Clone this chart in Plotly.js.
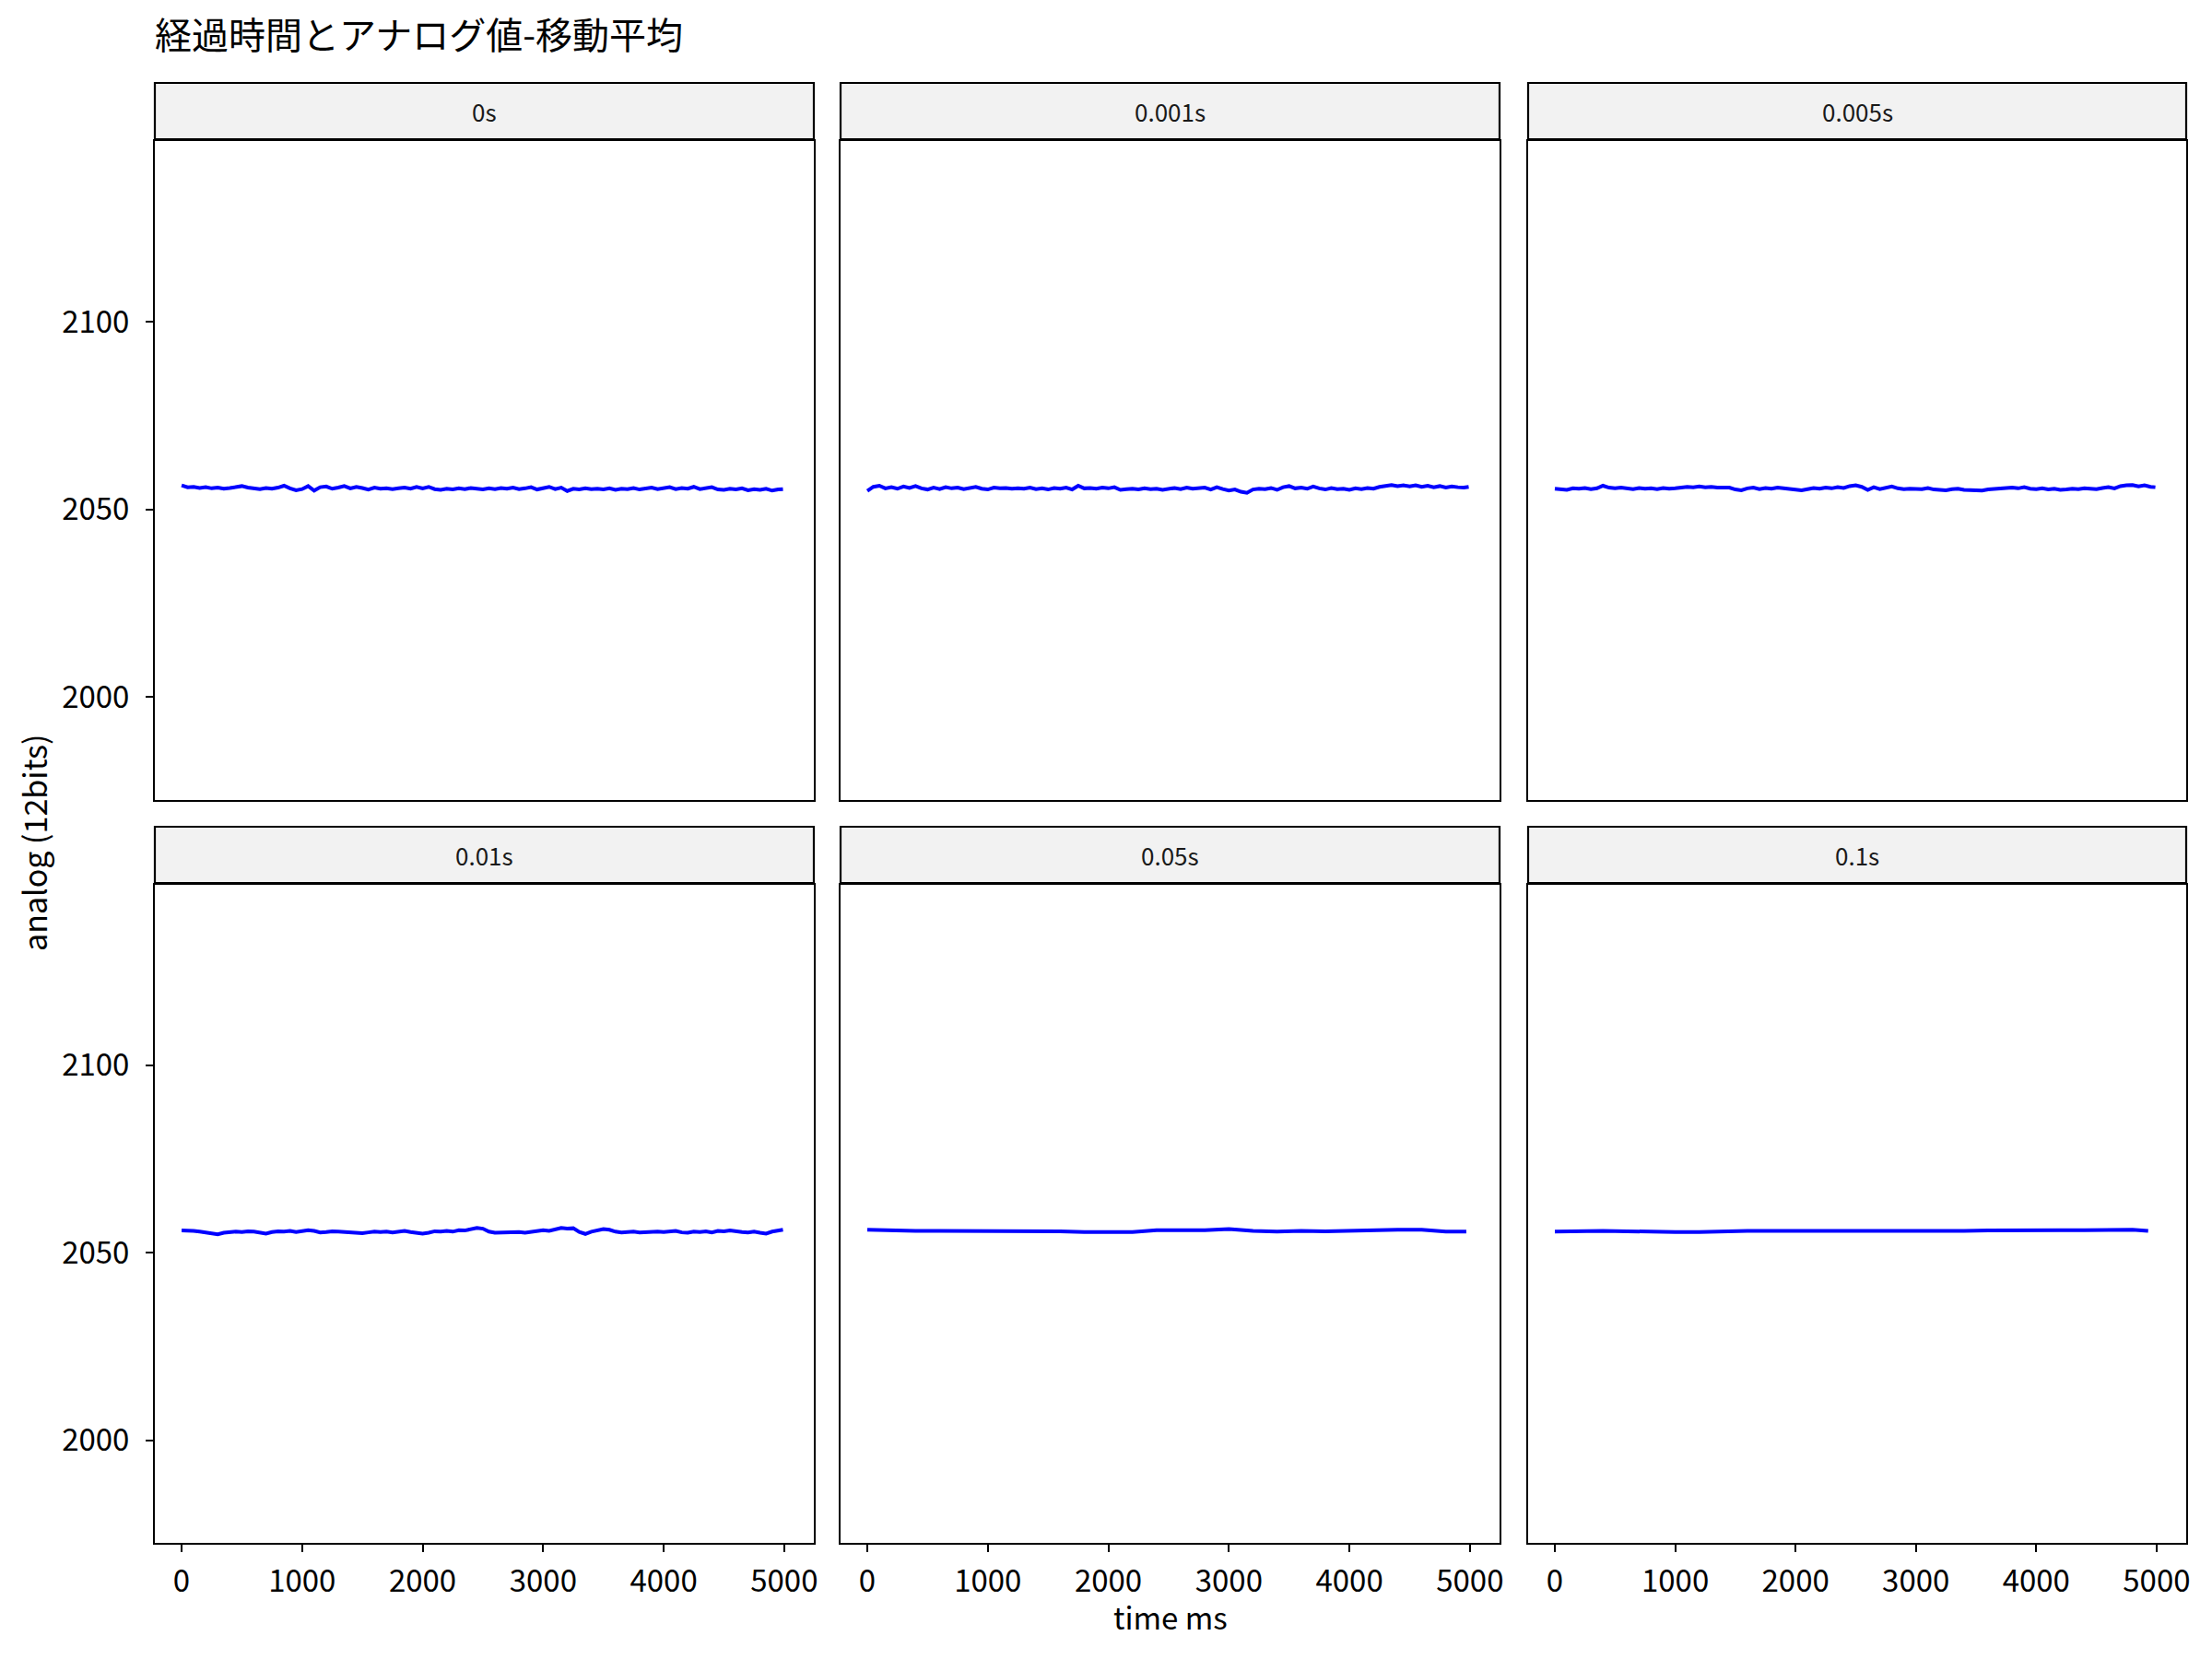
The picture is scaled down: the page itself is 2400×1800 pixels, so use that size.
<!DOCTYPE html>
<html>
<head>
<meta charset="utf-8">
<script src="https://cdn.plot.ly/plotly-3.0.1.min.js"></script>
<style>
  body { margin: 0; background: #fff; }
  #plot { width: 2400px; height: 1800px; }
</style>
</head>
<body>
<div id="plot"></div>
<script>
  // facet labels (moving-average window)
  var facets = ['0s', '0.001s', '0.005s', '0.01s', '0.05s', '0.1s'];

  // time ms, every 50 ms
  var tFine = [0, 50, 100, 150, 200, 250, 300, 350, 400, 450,
    500, 550, 600, 650, 700, 750, 800, 850, 900, 950,
    1000, 1050, 1100, 1150, 1200, 1250, 1300, 1350, 1400, 1450,
    1500, 1550, 1600, 1650, 1700, 1750, 1800, 1850, 1900, 1950,
    2000, 2050, 2100, 2150, 2200, 2250, 2300, 2350, 2400, 2450,
    2500, 2550, 2600, 2650, 2700, 2750, 2800, 2850, 2900, 2950,
    3000, 3050, 3100, 3150, 3200, 3250, 3300, 3350, 3400, 3450,
    3500, 3550, 3600, 3650, 3700, 3750, 3800, 3850, 3900, 3950,
    4000, 4050, 4100, 4150, 4200, 4250, 4300, 4350, 4400, 4450,
    4500, 4550, 4600, 4650, 4700, 4750, 4800, 4850, 4900, 4950, 4990];

  // time ms for the two long windows (line ends earlier)
  var tCoarse5 = [0, 200, 400, 600, 800, 1000, 1200, 1400, 1600, 1800, 2000, 2200, 2400,
    2600, 2800, 3000, 3200, 3400, 3600, 3800, 4000, 4200, 4400, 4600, 4800, 4970];
  var tCoarse6 = [0, 200, 400, 600, 800, 1000, 1200, 1400, 1600, 1800, 2000, 2200, 2400,
    2600, 2800, 3000, 3200, 3400, 3600, 3800, 4000, 4200, 4400, 4600, 4800, 4930];

  var analog0s = [2056.4, 2055.9, 2056.0, 2055.7, 2055.9, 2055.6, 2055.8, 2055.5, 2055.7, 2055.9,
    2056.2, 2055.8, 2055.6, 2055.4, 2055.7, 2055.5, 2055.8, 2056.3, 2055.6, 2055.1,
    2055.4, 2056.2, 2055.0, 2055.9, 2056.1, 2055.5, 2055.8, 2056.2, 2055.6, 2056.0,
    2055.7, 2055.3, 2055.8, 2055.5, 2055.6, 2055.4, 2055.6, 2055.8, 2055.5, 2056.0,
    2055.6, 2056.0, 2055.4, 2055.2, 2055.5, 2055.3, 2055.6, 2055.4, 2055.7, 2055.5,
    2055.3, 2055.6, 2055.4, 2055.7, 2055.5, 2055.8, 2055.4, 2055.6, 2055.9, 2055.3,
    2055.7, 2056.0, 2055.4, 2055.8, 2054.9, 2055.5, 2055.3, 2055.6, 2055.4, 2055.5,
    2055.3, 2055.6, 2055.2, 2055.5, 2055.4, 2055.7, 2055.3, 2055.5, 2055.8, 2055.4,
    2055.6, 2055.9, 2055.4, 2055.7, 2055.5, 2056.0, 2055.4, 2055.6, 2055.9, 2055.3,
    2055.2, 2055.5, 2055.3, 2055.6, 2055.1, 2055.4, 2055.2, 2055.5, 2055.0, 2055.3, 2055.4];

  var analog001 = [2054.9, 2056.0, 2056.3, 2055.6, 2055.9, 2055.5, 2056.1, 2055.7, 2056.2, 2055.6,
    2055.3, 2055.8, 2055.4, 2055.9, 2055.6, 2055.8, 2055.4, 2055.7, 2056.0, 2055.5,
    2055.3, 2055.8, 2055.6, 2055.7, 2055.5, 2055.6, 2055.5, 2055.8, 2055.4, 2055.6,
    2055.3, 2055.7, 2055.5, 2055.8, 2055.3, 2056.3, 2055.6, 2055.7, 2055.5, 2055.8,
    2055.6, 2055.9, 2055.2, 2055.4, 2055.5, 2055.3, 2055.6, 2055.4, 2055.5, 2055.2,
    2055.5, 2055.7, 2055.4, 2055.8, 2055.5, 2055.6, 2055.8, 2055.3, 2055.9, 2055.4,
    2055.0, 2055.3, 2054.7, 2054.4, 2055.3, 2055.5, 2055.4, 2055.7, 2055.2, 2055.9,
    2056.2, 2055.6, 2055.8, 2055.5, 2056.1, 2055.6, 2055.3, 2055.7, 2055.4, 2055.5,
    2055.2, 2055.6, 2055.4, 2055.7, 2055.5, 2056.0, 2056.3, 2056.5, 2056.2, 2056.4,
    2056.1, 2056.4, 2056.0, 2056.3, 2055.9, 2056.2, 2055.8, 2056.1, 2055.9, 2055.8, 2056.0];

  var analog005 = [2055.5, 2055.4, 2055.2, 2055.6, 2055.5, 2055.7, 2055.4, 2055.6, 2056.3, 2055.8,
    2055.6, 2055.8, 2055.5, 2055.4, 2055.7, 2055.5, 2055.6, 2055.4, 2055.7, 2055.5,
    2055.6, 2055.8, 2056.0, 2055.9, 2056.1, 2055.9, 2056.0, 2055.8, 2055.7, 2055.8,
    2055.3, 2055.1, 2055.6, 2055.8, 2055.4, 2055.7, 2055.5, 2055.8, 2055.6, 2055.4,
    2055.3, 2055.1, 2055.4, 2055.7, 2055.5, 2055.8, 2055.6, 2055.9, 2055.7, 2056.2,
    2056.4, 2056.0, 2055.2, 2055.9, 2055.4, 2055.7, 2056.1, 2055.6, 2055.4, 2055.5,
    2055.5, 2055.4, 2055.7, 2055.3, 2055.2, 2055.1, 2055.4, 2055.5, 2055.2, 2055.1,
    2054.9, 2055.0, 2055.3, 2055.4, 2055.4, 2055.6, 2055.8, 2055.6, 2055.9, 2055.5,
    2055.4, 2055.6, 2055.3, 2055.5, 2055.2, 2055.3, 2055.5, 2055.4, 2055.6, 2055.5,
    2055.4, 2055.7, 2055.9, 2055.6, 2056.2, 2056.4, 2056.5, 2056.1, 2056.4, 2056.0, 2055.9];

  var analog01 = [2055.9, 2055.9, 2055.8, 2055.6, 2055.4, 2055.2, 2054.9, 2055.3, 2055.5, 2055.6,
    2055.5, 2055.7, 2055.6, 2055.3, 2055.1, 2055.5, 2055.7, 2055.6, 2055.8, 2055.5,
    2055.7, 2056.0, 2055.8, 2055.4, 2055.5, 2055.7, 2055.6, 2055.5, 2055.3, 2055.2,
    2055.2, 2055.4, 2055.6, 2055.5, 2055.6, 2055.4, 2055.7, 2055.8, 2055.5, 2055.3,
    2055.1, 2055.3, 2055.7, 2055.6, 2055.8, 2055.6, 2056.0, 2055.9, 2056.3, 2056.6,
    2056.4, 2055.6, 2055.3, 2055.4, 2055.5, 2055.6, 2055.5, 2055.3, 2055.5, 2055.6,
    2056.0, 2055.8, 2056.2, 2056.6, 2056.4, 2056.5, 2055.5, 2055.0, 2055.6, 2056.0,
    2056.3, 2056.1, 2055.6, 2055.4, 2055.5, 2055.6, 2055.4, 2055.5, 2055.7, 2055.6,
    2055.5, 2055.6, 2055.8, 2055.4, 2055.3, 2055.6, 2055.5, 2055.7, 2055.4, 2055.8,
    2055.7, 2055.9, 2055.6, 2055.5, 2055.4, 2055.6, 2055.3, 2055.1, 2055.6, 2056.0, 2056.1];

  var analog05 = [2056.1, 2055.9, 2055.8, 2055.8, 2055.8, 2055.6, 2055.7, 2055.8, 2055.7, 2055.5,
    2055.4, 2055.5, 2056.0, 2056.0, 2056.0, 2056.3, 2055.8, 2055.6, 2055.8, 2055.7,
    2055.9, 2056.0, 2056.1, 2056.1, 2055.6, 2055.6];

  var analog1 = [2055.6, 2055.8, 2055.8, 2055.7, 2055.5, 2055.5, 2055.5, 2055.7, 2055.8, 2055.8,
    2055.8, 2055.7, 2055.6, 2055.6, 2055.7, 2055.8, 2055.8, 2055.8, 2055.9, 2056.0,
    2056.1, 2056.0, 2056.0, 2056.0, 2056.1, 2055.8];

  var xs = [tFine, tFine, tFine, tFine, tCoarse5, tCoarse6];
  var ys = [analog0s, analog001, analog005, analog01, analog05, analog1];

  var W = 2400, H = 1800;
  var FONT = '"Noto Sans CJK JP", "Noto Sans", sans-serif';

  // panel boxes in pixels
  var colL = [168, 912, 1658], colR = [883, 1627, 2372];
  var rowTop = [153, 960], rowBot = [868, 1674];
  var stripH = 63;

  var data = [];
  var layout = {
    width: W, height: H,
    margin: {l: 0, r: 0, t: 0, b: 0},
    paper_bgcolor: '#fff', plot_bgcolor: '#fff',
    showlegend: false,
    font: {family: FONT, color: '#000'},
    title: {
      text: '経過時間とアナログ値-移動平均',
      x: 168 / W, xanchor: 'left',
      y: 1 - 39 / H, yanchor: 'middle',
      font: {family: FONT, size: 40, color: '#000'}
    },
    shapes: [],
    annotations: []
  };

  for (var i = 0; i < 6; i++) {
    var c = i % 3, r = Math.floor(i / 3);
    var n = i == 0 ? '' : String(i + 1);
    data.push({
      x: xs[i], y: ys[i],
      xaxis: 'x' + n, yaxis: 'y' + n,
      type: 'scatter', mode: 'lines',
      line: {color: '#0000FF', width: 4},
      hoverinfo: 'skip'
    });

    layout['xaxis' + n] = {
      domain: [colL[c] / W, colR[c] / W],
      anchor: 'y' + n,
      range: [-222, 5246],
      tickvals: [0, 1000, 2000, 3000, 4000, 5000],
      showticklabels: r == 1,
      ticks: r == 1 ? 'outside' : '',
      ticklen: 8, tickwidth: 2, tickcolor: '#000',
      ticklabelstandoff: 3,
      tickfont: {family: FONT, size: 33, color: '#000'},
      showgrid: false, zeroline: false,
      showline: true, mirror: true, linecolor: '#000', linewidth: 2
    };
    layout['yaxis' + n] = {
      domain: [1 - rowBot[r] / H, 1 - rowTop[r] / H],
      anchor: 'x' + n,
      range: [1972.6, 2148.1],
      tickvals: [2000, 2050, 2100],
      showticklabels: c == 0,
      ticks: c == 0 ? 'outside' : '',
      ticklen: 8, tickwidth: 2, tickcolor: '#000',
      ticklabelstandoff: 11,
      tickfont: {family: FONT, size: 33, color: '#000'},
      showgrid: false, zeroline: false,
      showline: true, mirror: true, linecolor: '#000', linewidth: 2
    };

    // facet strip, its lower edge against the panel box (gives the thick double rule)
    var sTop = rowTop[r] - stripH, sBot = rowTop[r] - 2;
    layout.shapes.push({
      type: 'rect', xref: 'paper', yref: 'paper',
      x0: colL[c] / W, x1: colR[c] / W,
      y0: 1 - sBot / H, y1: 1 - sTop / H,
      fillcolor: '#F2F2F2', line: {color: '#000', width: 2.2}
    });
    layout.annotations.push({
      text: facets[i], xref: 'paper', yref: 'paper',
      x: (colL[c] + colR[c]) / 2 / W, y: 1 - (sTop + sBot) / 2 / H,
      xanchor: 'center', yanchor: 'middle', showarrow: false,
      font: {family: FONT, size: 26, color: '#1A1A1A'}
    });
  }

  layout.annotations.push({
    text: 'time ms', xref: 'paper', yref: 'paper',
    x: (168 + 2372) / 2 / W, y: 1 - 1754 / H,
    xanchor: 'center', yanchor: 'middle', showarrow: false,
    font: {family: FONT, size: 33, color: '#000'}
  });
  layout.annotations.push({
    text: 'analog (12bits)', xref: 'paper', yref: 'paper',
    x: 36 / W, y: 1 - 914 / H, textangle: -90,
    xanchor: 'center', yanchor: 'middle', showarrow: false,
    font: {family: FONT, size: 34, color: '#000'}
  });

  Plotly.newPlot('plot', data, layout, {staticPlot: true});
</script>
</body>
</html>
